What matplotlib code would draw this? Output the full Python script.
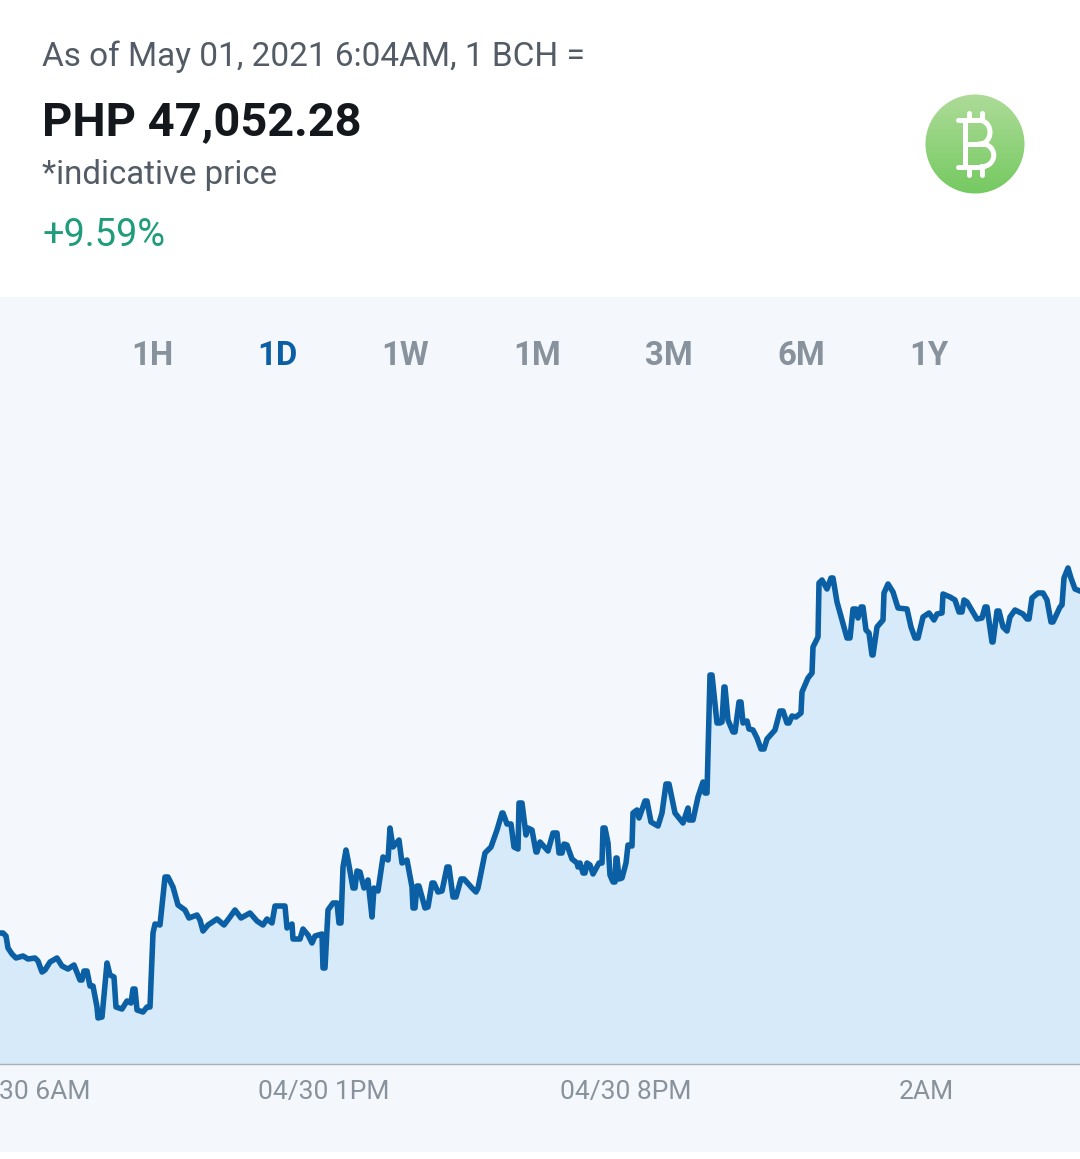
import numpy as np
import matplotlib
matplotlib.use("Agg")
import matplotlib.pyplot as plt
from matplotlib.patches import Circle, Rectangle

plt.rcParams['font.family'] = ['Roboto', 'DejaVu Sans']

W, H = 1080, 1159

# sample position along the time axis, and price level above the baseline (no y scale is shown)
sample_pos = [
    0, 3, 6, 8, 12, 16, 23, 28, 35, 38, 42, 45, 50, 57, 62, 68, 74, 80, 82, 84, 87, 90, 93, 97, 98, 102,
    107, 110, 114, 116, 122, 127, 131, 133, 135, 137, 143, 147, 150, 153, 155, 160, 165, 168, 173, 178,
    185, 189, 197, 200, 203, 208, 217, 224, 230, 235, 241, 250, 257, 263, 267, 272, 275, 285, 287, 292,
    293, 300, 303, 308, 312, 315, 322, 323, 325, 328, 333, 337, 339, 341, 343, 346, 348, 353, 355, 357,
    360, 364, 368, 372, 374, 378, 383, 388, 390, 393, 399, 402, 407, 412, 413, 415, 417, 419, 425, 428,
    432, 434, 438, 442, 447, 449, 453, 456, 461, 464, 472, 476, 478, 485, 491, 497, 502, 503, 507, 511,
    514, 518, 519, 522, 526, 528, 532, 536, 537, 540, 548, 553, 557, 559, 562, 564, 567, 572, 577, 578,
    580, 583, 585, 587, 590, 593, 599, 602, 603, 605, 608, 610, 613, 615, 616, 617, 619, 622, 626, 628,
    632, 633, 637, 639, 645, 647, 651, 658, 662, 666, 669, 675, 683, 688, 689, 693, 698, 703, 705, 707,
    710, 712, 717,
    720, 722, 724, 725, 728, 733, 735, 739, 741, 743, 747, 749, 753, 757, 761, 764, 767, 775, 780, 783,
    787, 789, 792, 796, 801, 802, 808, 812, 813, 818, 819, 822, 827, 831, 833, 837, 842, 847, 850, 853,
    856, 858, 861, 863, 866, 869, 872, 873, 877, 883, 884, 888, 893, 898, 907, 911, 915, 918, 923, 929,
    934, 937, 942, 943, 950, 955, 959, 962, 964, 967, 977, 982, 985, 987, 992, 993, 997, 999, 1003, 1007,
    1010, 1015, 1023, 1027, 1029, 1032, 1038, 1043, 1047, 1051, 1053, 1060, 1062, 1064, 1068, 1071, 1075, 1080,
]
price_level = [
    131, 131, 128, 116, 110, 106, 108, 105, 106, 103, 92, 94, 102, 106, 98, 95, 99, 84, 84, 93, 93, 78, 78, 57, 46, 47,
    101, 89, 87, 57, 55, 63, 61, 75, 75, 54, 52, 57, 57, 131, 140, 139, 187, 187, 177, 159,
    154, 146, 149, 144, 133, 139, 145, 139, 147, 154, 146, 151, 143, 139, 145, 141, 158, 158, 136, 140,
    125, 125, 135, 129, 121, 128, 130, 96, 96, 154, 161, 161, 141, 141, 197, 214, 204, 176, 176, 193,
    192, 176, 184, 147, 176, 173, 207, 204, 236, 217, 224, 201, 204, 177, 156, 156, 178, 178, 156, 157,
    181, 181, 172, 173, 197, 197, 167, 167, 185, 185, 176, 172, 176, 211, 217, 234, 251, 251, 240, 240,
    217, 215, 261, 261, 229, 236, 234, 212, 212, 222, 213, 231, 231, 211, 211, 220, 219, 205, 201, 197,
    201, 191, 191, 201, 199, 190, 201, 201, 236, 236, 221, 189, 182, 182, 206, 206, 185, 186, 201, 219,
    218, 251, 254, 246, 263, 263, 242, 238, 251, 280, 280, 251, 241, 256, 244, 244, 267, 282, 271, 271,
    389, 389, 341,
    341, 342, 377, 377, 344, 332, 332, 362, 362, 341, 343, 335, 334, 326, 315, 315, 325, 334, 353, 353,
    341, 341, 348, 347, 351, 372, 386, 391, 417, 427, 481, 484, 475, 486, 486, 462, 444, 426, 426, 455,
    455, 446, 457, 457, 434, 431, 409, 409, 437, 444, 471, 480, 472, 456, 455, 437, 426, 426, 447, 451,
    444, 450, 451, 470, 467, 464, 452, 452, 464, 462, 445, 446, 457, 457, 422, 422, 453, 453, 437, 433,
    447, 454, 450, 445, 445, 466, 471, 471, 464, 442, 442, 457, 459, 486, 496, 486, 475, 473,
]

# the first label is cut by the screen edge in the source, only "30 6AM" is visible
tick_pos = [45, 324, 626, 926]
tick_labels = ["30 6AM", "04/30 1PM", "04/30 8PM", "2AM"]

ranges = ["1H", "1D", "1W", "1M", "3M", "6M", "1Y"]
range_x = [152, 277, 405, 537, 669, 801, 929]
active_range = "1D"


def fx(px):
    return px / W


def fy(py):
    return 1 - py / H


fig = plt.figure(figsize=(W / 100, H / 100), dpi=100, facecolor="white")

# panel behind the chart, a thin white strip stays below it
fig.add_artist(Rectangle((0, fy(1152)), 1, fy(297) - fy(1152), transform=fig.transFigure,
                         facecolor="#f4f8fc", edgecolor="none", zorder=-1))

# header
fig.text(fx(42), fy(57), "As of May 01, 2021 6:04AM, 1 BCH =", fontsize=24, color="#535c66", va="center")
fig.text(fx(42), fy(122), "PHP 47,052.28", fontsize=33.8, fontweight="bold", color="#14181c", va="center")
fig.text(fx(42), fy(175), "*indicative price", fontsize=23.8, color="#535c66", va="center")
fig.text(fx(42), fy(236), "+9.59%", fontsize=27.3, color="#1f9d7a", va="center")

# range buttons
for name, x in zip(ranges, range_x):
    col = "#0b5fa5" if name == active_range else "#87929c"
    fig.text(fx(x), fy(356), name, fontsize=23.7, fontweight="bold", color=col, ha="center", va="center")

# coin icon
icon = fig.add_axes([fx(925), fy(194), 100 / W, 100 / H])
grad = np.linspace(0, 1, 100).reshape(-1, 1)
c_top = np.array([0.68, 0.86, 0.60])
c_bot = np.array([0.46, 0.79, 0.38])
img = icon.imshow((c_top + (c_bot - c_top) * grad[:, :, None]), extent=(-1, 1, -1, 1), aspect="auto")
img.set_clip_path(Circle((0, 0), 0.99, transform=icon.transData))
icon.axis("off")

# no installed font has the bitcoin sign, so it is drawn by hand
t = np.linspace(np.pi / 2, -np.pi / 2, 40)
lw_b = 3.6
icon.plot([-0.2, -0.2], [0.47, -0.45], color="white", lw=lw_b, solid_capstyle="round")
icon.plot(0.1 + 0.2 * np.cos(t), 0.235 + 0.235 * np.sin(t), color="white", lw=lw_b)
icon.plot(0.15 + 0.225 * np.cos(t), -0.225 + 0.225 * np.sin(t), color="white", lw=lw_b)
icon.plot([-0.35, 0.1], [0.47, 0.47], color="white", lw=lw_b, solid_capstyle="round")
icon.plot([-0.2, 0.15], [0, 0], color="white", lw=lw_b, solid_capstyle="round")
icon.plot([-0.35, 0.15], [-0.45, -0.45], color="white", lw=lw_b, solid_capstyle="round")
for x in [-0.13, 0.13]:
    icon.plot([x, x], [0.47, 0.62], color="white", lw=lw_b, solid_capstyle="round")
    icon.plot([x, x], [-0.45, -0.61], color="white", lw=lw_b, solid_capstyle="round")
icon.set_xlim(-1, 1)
icon.set_ylim(-1, 1)

# price chart
ax = fig.add_axes([0, fy(1064), 1, (1064 - 297) / H])
ax.patch.set_alpha(0)
ax.fill_between(sample_pos, price_level, 0, color="#d6eafa", linewidth=0)
ax.plot(sample_pos, price_level, color="#0b5fa5", linewidth=4, solid_joinstyle="round")
ax.set_xlim(0, W)
ax.set_ylim(0, 1064 - 297)
for s in ["top", "left", "right"]:
    ax.spines[s].set_visible(False)
ax.spines["bottom"].set_color("#a9b0b6")
ax.spines["bottom"].set_linewidth(1)
ax.set_yticks([])
ax.set_xticks(tick_pos)
ax.set_xticklabels(tick_labels, fontsize=19, color="#87929c")
ax.tick_params(axis="x", length=0, pad=11.5)

fig.savefig("out.png", dpi=100)
